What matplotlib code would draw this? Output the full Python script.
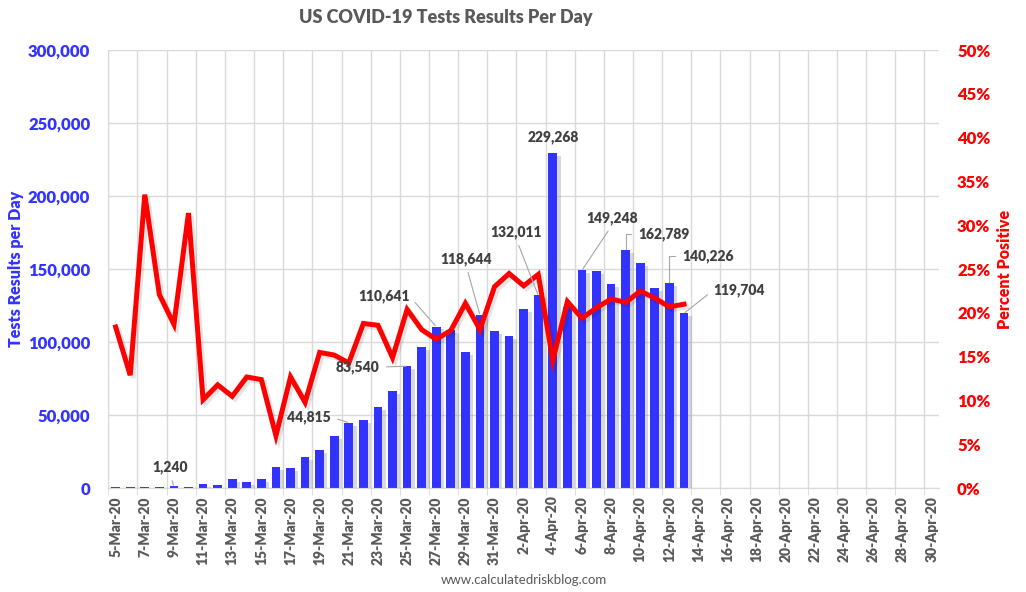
import pandas as pd
import matplotlib
matplotlib.use('Agg')
import matplotlib.pyplot as plt
import matplotlib.patheffects as pe
from matplotlib.ticker import FuncFormatter, MultipleLocator

plt.rcParams['font.family'] = ['Lato', 'DejaVu Sans']

# categories: 5-Mar-20 .. 30-Apr-20, bars only up to 13-Apr
dates = pd.date_range('2020-03-05', '2020-04-30')
day_labels = [f"{d.day}-{d:%b}-20" for d in dates]

tests = [750, 750, 750, 750, 1240, 750, 2960, 2280, 6380, 4330,
         6380, 14600, 13900, 21400, 26200, 35800, 44815, 46700, 55600, 66600,
         83540, 96700, 110641, 108300, 93300, 118644, 107600, 104200, 122700, 132011,
         229268, 124000, 149248, 148700, 139800, 162789, 154100, 137000, 140226, 119704]

pct_pos = [18.4, 12.9, 33.5, 22.1, 18.7, 31.4, 10.1, 11.8, 10.5, 12.7,
           12.4, 6.0, 12.7, 9.8, 15.5, 15.2, 14.3, 18.8, 18.6, 14.9,
           20.4, 18.1, 17.0, 18.0, 21.1, 18.1, 23.0, 24.5, 23.1, 24.4,
           14.6, 21.3, 19.4, 20.6, 21.6, 21.2, 22.5, 21.7, 20.7, 21.0]

# (bar index, label x, label y, leader style)
labels = [
    (4, 3.73, 14600, 'bottom'),
    (16, 13.28, 48900, 'right'),
    (20, 16.62, 83000, 'right'),
    (22, 18.39, 131600, 'right'),
    (25, 24.05, 157000, 'bottom'),
    (29, 27.49, 175400, 'bottom'),
    (30, 30.03, 240400, None),
    (32, 34.08, 185000, 'bottom'),
    (35, 37.63, 173800, 'elbow'),
    (38, 40.63, 159000, 'elbow'),
    (39, 42.79, 135700, 'left'),
]

blue = '#3333FF'
red = '#FF0000'
grid = '#D9D9D9'
dark = '#404040'
gray = '#595959'
wt = 'heavy'

fig = plt.figure(figsize=(10.26, 5.92), dpi=100)
ax1 = fig.add_axes([0.1056, 0.1752, 0.8096, 0.7403])
ax2 = ax1.twinx()

x = list(range(len(tests)))
bars = ax1.bar(x, tests, width=0.6, color=blue, zorder=3)
for b in bars:
    b.set_path_effects([pe.SimplePatchShadow(offset=(2.5, -2), shadow_rgbFace='#808080', alpha=0.3), pe.Normal()])

ax2.plot(x, pct_pos, color=red, lw=3.6, solid_joinstyle='miter', zorder=4,
         path_effects=[pe.SimpleLineShadow(offset=(2, -2), alpha=0.1), pe.Normal()])

ax1.set_xlim(-0.5, len(dates) - 0.5)
ax1.set_ylim(0, 300000)
ax2.set_ylim(0, 0.5 * 100)

ax1.set_xticks(range(0, len(dates), 2))
ax1.set_xticklabels(day_labels[::2], rotation=90, fontsize=10, fontweight=wt, color=gray)
ax1.set_xticks([i - 0.5 for i in range(0, len(dates), 2)], minor=True)
ax1.tick_params(axis='x', which='major', length=0, pad=6)
ax1.tick_params(axis='x', which='minor', length=5, color=grid)

ax1.yaxis.set_major_locator(MultipleLocator(50000))
ax1.yaxis.set_major_formatter(FuncFormatter(lambda v, p: f"{int(v):,}"))
ax1.tick_params(axis='y', length=0, pad=13, labelcolor=blue, labelsize=12)
for t in ax1.get_yticklabels():
    t.set_fontweight(wt)

ax2.yaxis.set_major_locator(MultipleLocator(5))
ax2.yaxis.set_major_formatter(FuncFormatter(lambda v, p: f"{int(round(v))}%"))
ax2.tick_params(axis='y', length=0, pad=13, labelcolor=red, labelsize=12)
for t in ax2.get_yticklabels():
    t.set_fontweight(wt)

ax1.grid(axis='y', color=grid, lw=1, zorder=0)
ax1.grid(axis='x', which='minor', color=grid, lw=1, zorder=0)
ax1.set_axisbelow(True)
for ax in (ax1, ax2):
    ax.spines['top'].set_visible(False)
    ax.spines['right'].set_visible(False)
    ax.spines['left'].set_color(grid)
    ax.spines['bottom'].set_color(grid)
ax2.spines['left'].set_visible(False)

ax1.set_ylabel('Tests Results per Day', color=blue, fontsize=11.5, fontweight=wt, labelpad=3)
ax2.set_ylabel('Percent Positive', color=red, fontsize=11.5, fontweight=wt, labelpad=5)

fig.text(0.434, 0.971, 'US COVID-19 Tests Results Per Day', ha='center', va='center',
         fontsize=13, fontweight=wt, color=gray)
fig.text(0.511, 0.02, 'www.calculatedriskblog.com', ha='center', va='center',
         fontsize=9.5, color=gray)

relpos = {'bottom': (0.5, 0.0), 'right': (1.0, 0.5), 'left': (0.0, 0.5), 'elbow': (0.0, 0.5)}
for i, lx, ly, style in labels:
    txt = f"{tests[i]:,}"
    if style is None:
        ax2.annotate(txt, xy=(lx, ly), xycoords=ax1.transData, ha='center', va='center',
                     fontsize=10, fontweight=wt, color=dark, zorder=6)
        continue
    conn = 'angle,angleA=180,angleB=90,rad=0' if style == 'elbow' else 'arc3'
    ax2.annotate(txt, xy=(i, tests[i]), xycoords=ax1.transData,
                 xytext=(lx, ly), textcoords=ax1.transData,
                 ha='center', va='center', fontsize=10, fontweight=wt, color=dark, zorder=6,
                 arrowprops=dict(arrowstyle='-', color='#A6A6A6', lw=0.8, shrinkA=3, shrinkB=1,
                                 relpos=relpos[style], connectionstyle=conn))

fig.savefig('out.png', dpi=100)
